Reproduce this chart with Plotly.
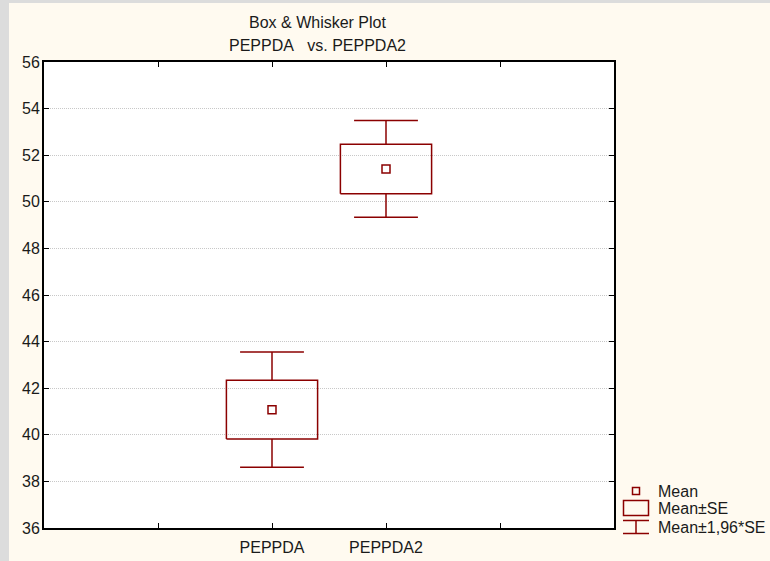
import plotly.graph_objects as go

# Summary statistics per variable
categories = ["PEPPDA", "PEPPDA2"]
means = [41.08, 51.41]
std_errors = [1.26, 1.06]
z_factor = 1.96

# Axis ticks
y_ticks = [36, 38, 40, 42, 44, 46, 48, 50, 52, 54, 56]
x_tick_labels = ["", "PEPPDA", "PEPPDA2", ""]

# Legend entries
legend_labels = ["Mean", "Mean\u00b1SE", "Mean\u00b11,96*SE"]

RED = "#8b0000"
TXT = "#1a1a1a"
FONT = "Liberation Sans, Arial, sans-serif"
FS = 16
W, H = 770, 561
ML, MR, MT, MB = 44, 156, 62, 33
PW, PH = W - ML - MR, H - MT - MB

BOX_HALF = 0.4    # half width of the SE box in category units
CAP_HALF = 0.28   # half width of the whisker caps

x_pos = list(range(len(categories)))


def px_x(px):
    return (px - ML) / PW


def px_y(py):
    return (H - MB - py) / PH


# Build box outline + whiskers as one polyline per category
xs, ys = [], []
for x, m, s in zip(x_pos, means, std_errors):
    lo_b, hi_b = m - s, m + s
    lo_w, hi_w = m - z_factor * s, m + z_factor * s
    # SE box
    xs += [x - BOX_HALF, x + BOX_HALF, x + BOX_HALF, x - BOX_HALF, x - BOX_HALF, None]
    ys += [lo_b, lo_b, hi_b, hi_b, lo_b, None]
    # upper whisker and cap
    xs += [x, x, None, x - CAP_HALF, x + CAP_HALF, None]
    ys += [hi_b, hi_w, None, hi_w, hi_w, None]
    # lower whisker and cap
    xs += [x, x, None, x - CAP_HALF, x + CAP_HALF, None]
    ys += [lo_b, lo_w, None, lo_w, lo_w, None]

fig = go.Figure()

fig.add_trace(go.Scatter(
    x=xs, y=ys, mode="lines",
    line=dict(color=RED, width=1.5),
    showlegend=False, hoverinfo="skip",
))

# Mean markers
fig.add_trace(go.Scatter(
    x=x_pos, y=means, mode="markers",
    marker=dict(symbol="square-open", size=8, color=RED, line=dict(width=1.5, color=RED)),
    showlegend=False, hoverinfo="skip",
))

shapes = []
# Gray window frame on the left edge and along the top
shapes.append(dict(type="rect", xref="paper", yref="paper",
                   x0=px_x(0), x1=px_x(9), y0=px_y(H), y1=px_y(0),
                   fillcolor="#dcdcdc", line=dict(width=0), layer="below"))
shapes.append(dict(type="rect", xref="paper", yref="paper",
                   x0=px_x(9), x1=px_x(W), y0=px_y(3), y1=px_y(0),
                   fillcolor="#dcdcdc", line=dict(width=0), layer="below"))

# Legend icons
lw = dict(color=RED, width=1.5)
shapes.append(dict(type="rect", xref="paper", yref="paper",
                   x0=px_x(632.5), x1=px_x(639.5), y0=px_y(494.5), y1=px_y(487.5), line=lw))
shapes.append(dict(type="rect", xref="paper", yref="paper",
                   x0=px_x(623.5), x1=px_x(648.5), y0=px_y(515.5), y1=px_y(500.5), line=lw))
for yy in (520.5, 533.5):
    shapes.append(dict(type="line", xref="paper", yref="paper",
                       x0=px_x(623), x1=px_x(649), y0=px_y(yy), y1=px_y(yy), line=lw))
shapes.append(dict(type="line", xref="paper", yref="paper",
                   x0=px_x(636), x1=px_x(636), y0=px_y(520.5), y1=px_y(533.5), line=lw))

annotations = []
for label, yc in zip(legend_labels, [491, 508, 527]):
    annotations.append(dict(text=label, xref="paper", yref="paper",
                            x=px_x(656), y=px_y(yc), xanchor="left", yanchor="middle",
                            showarrow=False, font=dict(family=FONT, size=FS, color=TXT)))

# Two-line title
annotations.append(dict(text="Box & Whisker Plot", xref="paper", yref="paper",
                        x=px_x(317), y=px_y(22), xanchor="center", yanchor="middle",
                        showarrow=False, font=dict(family=FONT, size=FS, color=TXT)))
annotations.append(dict(text="PEPPDA\u00a0\u00a0\u00a0vs. PEPPDA2", xref="paper", yref="paper",
                        x=px_x(317), y=px_y(45), xanchor="center", yanchor="middle",
                        showarrow=False, font=dict(family=FONT, size=FS, color=TXT)))

fig.update_layout(
    width=W, height=H,
    margin=dict(l=ML, r=MR, t=MT, b=MB, pad=0, autoexpand=False),
    paper_bgcolor="#fffaf0",
    plot_bgcolor="white",
    font=dict(family=FONT, size=FS, color=TXT),
    shapes=shapes,
    annotations=annotations,
    showlegend=False,
)

fig.update_xaxes(
    range=[-2, 3],
    tickvals=[-1, 0, 1, 2], ticktext=x_tick_labels,
    ticks="inside", ticklen=5, tickcolor="black", tickwidth=1,
    ticklabelstandoff=4, automargin=False,
    showline=True, linecolor="black", linewidth=2, mirror="ticks",
    showgrid=False, zeroline=False,
)
fig.update_yaxes(
    range=[36, 56],
    tickvals=y_ticks,
    ticks="inside", ticklen=5, tickcolor="black", tickwidth=1,
    ticklabelstandoff=-1, automargin=False,
    showline=True, linecolor="black", linewidth=2, mirror="ticks",
    showgrid=True, gridcolor="#c8c8c8", griddash="1px,1px", gridwidth=1,
    zeroline=False,
)

fig.write_html("out.html", config={"displayModeBar": False, "staticPlot": True})
